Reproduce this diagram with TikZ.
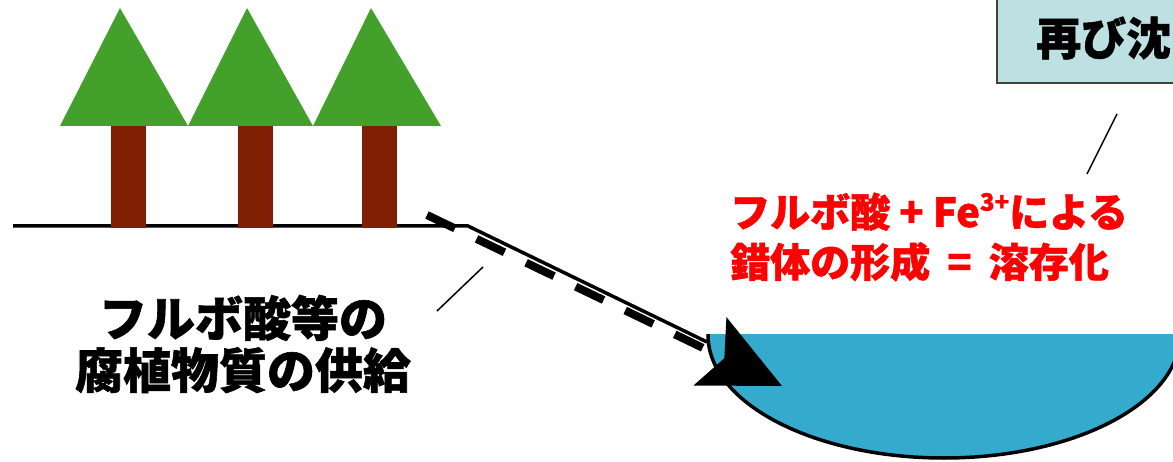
\documentclass[tikz,border=0pt]{standalone}
\usepackage{fontspec}
\newfontfamily\jpfont{Noto Sans CJK JP}[BoldFeatures={FakeBold=1.2}]
\usetikzlibrary{arrows.meta}
\definecolor{leafgreen}{RGB}{67,160,43}
\definecolor{trunkbrown}{RGB}{127,32,4}
\definecolor{lakeblue}{RGB}{52,170,205}
\definecolor{boxcyan}{RGB}{189,224,227}
\definecolor{labelred}{RGB}{255,0,0}
\tikzset{
  leader/.style={line width=1.5pt},
  jplabel/.style 2 args={font=\jpfont\bfseries\fontsize{#1}{#2}\selectfont, inner sep=0pt}
}

\begin{document}
\begin{tikzpicture}[line cap=butt,line join=miter,x=1pt,y=-1pt]
            \useasboundingbox (0,0) rectangle (1173,462);
            % ground and slope
            \draw [line width=3.5pt] (13,226)-- (468,226)-- (707,342);
            % trees
            \fill [leafgreen] (60,126)-- (120,8)-- (188,126)-- cycle;
            \fill [leafgreen] (188,126)-- (247,8)-- (313,126)-- cycle;
            \fill [leafgreen] (313,126)-- (371,8)-- (441,126)-- cycle;
            \fill [trunkbrown] (111,126) rectangle (146,228);
            \fill [trunkbrown] (238,126) rectangle (273,228);
            \fill [trunkbrown] (362,126) rectangle (397,228);
            % lake
            \begin{scope}
            \clip (690,335) rectangle (1190,470);
            \filldraw [fill=lakeblue, line width=3.5pt] (944,335) ellipse [x radius=236, y radius=123];
            \end{scope}
            % runoff
            \draw [line width=8pt, dash pattern=on 31pt off 24pt,
                   -{Stealth[length=80pt,width=76pt,inset=16pt,line width=0pt]}] (427,215)-- (782,386);
            % box at top right
            \filldraw [fill=boxcyan, draw=black!75, line width=1.5pt] (997,-5) rectangle (1185,83);
            \node (again) [jplabel={45}{52}, anchor=west] at (1036,38) {再び沈};
            % labels
            \node (supply) [jplabel={48}{52}, align=center] at (243,344) {フルボ酸等の\\腐植物質の供給};
            \node (complex) [jplabel={40}{50}, text=labelred, align=left, anchor=west] at (730,237)
                  {フルボ酸 + Fe\raisebox{0.75ex}{\fontsize{24}{24}\selectfont 3+}による\\錯体の形成\hspace{8pt} = \hspace{8pt}溶存化};
            \coordinate (p1) at (483,267);
            \coordinate (p2) at (437,311);
            \coordinate (q1) at (1117,114);
            \coordinate (q2) at (1087,174);
            \draw [leader] (p1)-- (p2);
            \draw [leader] (q1)-- (q2);
\end{tikzpicture}
\end{document}
